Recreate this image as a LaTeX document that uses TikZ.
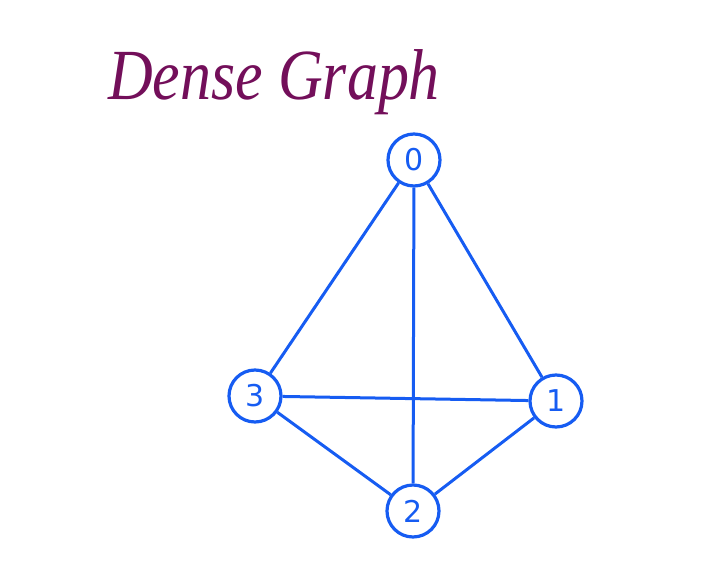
\documentclass[tikz,border=0pt]{standalone}
\usepackage{fontspec}
\setmainfont{Liberation Serif}
\newfontfamily\handfont{DejaVu Sans}
\definecolor{gblue}{RGB}{22,92,242}
\definecolor{gpurple}{RGB}{115,15,90}
\begin{document}
\begin{tikzpicture}[x=1pt,y=-1pt,
  vert/.style={circle,draw=gblue,line width=3.2pt,minimum size=52pt,inner sep=0pt,text=gblue,font=\handfont\fontsize{30}{32}\selectfont},
  edge/.style={draw=gblue,line width=3pt}]
\useasboundingbox (0,0) rectangle (710,565);
\node[text=gpurple,font=\itshape\fontsize{72}{80}\selectfont,anchor=west,xscale=0.86] (title) at (105,82) {Dense Graph};
\node[vert] (n0) at (414,160) {0};
\node[vert] (n1) at (556,401) {1};
\node[vert] (n2) at (413,511) {2};
\node[vert] (n3) at (255,396) {3};
\draw[edge] (n0) -- (n3);
\draw[edge] (n0) -- (n2);
\draw[edge] (n0) -- (n1);
\draw[edge] (n3) -- (n1);
\draw[edge] (n3) -- (n2);
\draw[edge] (n2) -- (n1);
\end{tikzpicture}
\end{document}
